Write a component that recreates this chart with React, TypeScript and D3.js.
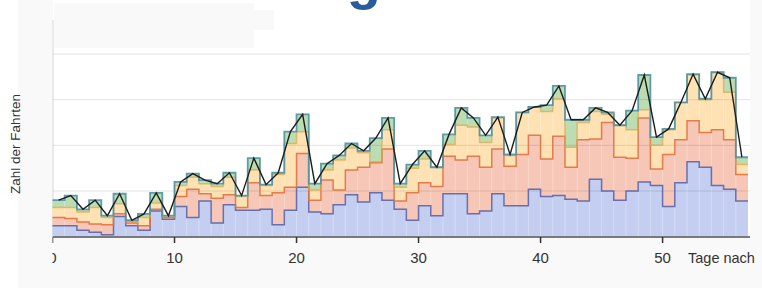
import React, { useEffect, useRef } from 'react';
import * as d3 from 'd3';

// Tage 0..56, je ein Schritt pro Tag
const days = [
  0, 1, 2, 3, 4, 5, 6, 7, 8, 9, 10, 11, 12, 13, 14, 15, 16, 17, 18, 19,
  20, 21, 22, 23, 24, 25, 26, 27, 28, 29, 30, 31, 32, 33, 34, 35, 36, 37, 38, 39,
  40, 41, 42, 43, 44, 45, 46, 47, 48, 49, 50, 51, 52, 53, 54, 55, 56,
];

// gestapelte Reihen (von unten nach oben)
const blau = [
  12, 12, 7, 5, 2, 22, 12, 7, 28, 19, 33, 21, 39, 15, 35, 29, 29, 30, 13, 29,
  54, 27, 25, 35, 46, 38, 48, 40, 30, 18, 34, 23, 47, 47, 25, 28, 47, 34, 34, 52,
  44, 45, 41, 39, 63, 50, 40, 50, 60, 56, 33, 59, 82, 76, 56, 52, 39,
];
const rot = [
  9, 8, 9, 9, 11, 3, 3, 5, 2, 2, 11, 31, 8, 27, 11, 3, 30, 15, 35, 25,
  37, 13, 37, 16, 27, 38, 33, 56, 9, 30, 25, 32, 41, 37, 63, 48, 49, 43, 56, 59,
  41, 65, 35, 67, 44, 75, 47, 36, 70, 18, 57, 47, 45, 38, 61, 54, 29,
];
const orange = [
  11, 12, 11, 18, 8, 11, 2, 9, 7, 1, 12, 13, 11, 13, 19, 12, 14, 11, 20, 48,
  24, 11, 11, 33, 24, 16, 1, 21, 15, 27, 26, 21, 13, 38, 32, 27, 34, 12, 46, 31,
  52, 41, 22, 19, 30, 9, 35, 31, 9, 26, 27, 41, 50, 36, 63, 52, 11,
];
const gruen = [
  8, 13, 3, 8, 2, 11, 1, 4, 11, 1, 4, 4, 4, 3, 5, 1, 13, 1, 2, 13,
  19, 7, 7, 5, 5, 2, 26, 13, 4, 4, 9, 0, 11, 19, 10, 8, 1, 1, 0, 0,
  7, 14, 30, 3, 4, 2, 0, 21, 38, 9, 1, 0, 1, 1, 0, 16, 8,
];

const yGrid = [50, 100, 150, 200];
const xTicks = [0, 10, 20, 30, 40, 50];

const keys = ['blau', 'rot', 'orange', 'gruen'];
const fills: Record<string, string> = { blau: '#c4cef1', rot: '#f6c6b7', orange: '#fee2b4', gruen: '#bcdcb2' };
const strokes: Record<string, string> = { blau: '#5b63a9', rot: '#e2703d', orange: '#dba445', gruen: '#4d93a6' };

const App: React.FC = () => {
  const svgRef = useRef<SVGSVGElement | null>(null);

  useEffect(() => {
    if (!svgRef.current) return;
    const width = 762, height = 288;
    const svg = d3.select(svgRef.current).attr('width', width).attr('height', height);
    svg.selectAll('*').remove();

    const x = d3.scaleLinear().domain([0, 57]).range([52.5, 748]);
    const y = d3.scaleLinear().domain([0, 200]).range([236.7, 54]);

    const rows = days.map((d, i) => ({ day: d, blau: blau[i], rot: rot[i], orange: orange[i], gruen: gruen[i] }));
    const series = d3.stack<any>().keys(keys)(rows);
    const totals = rows.map(r => r.blau + r.rot + r.orange + r.gruen);

    // background: grey frame, white plot area
    svg.append('rect').attr('x', 18).attr('y', 0).attr('width', width - 18).attr('height', height).attr('fill', '#f9f9f9');
    svg.append('rect').attr('x', 53).attr('y', 0).attr('width', 697).attr('height', 237).attr('fill', '#fff');

    // faded legend box
    svg.append('rect').attr('x', 54).attr('y', 3).attr('width', 200).attr('height', 45).attr('fill', '#f9f9f9');
    svg.append('rect').attr('x', 254).attr('y', 10).attr('width', 20).attr('height', 20).attr('fill', '#f9f9f9');

    // title (only the descender of the g peeks in at the top)
    svg.append('text')
      .attr('x', 381).attr('y', -2.5)
      .attr('text-anchor', 'end')
      .style('font-family', '"Liberation Sans", Arial, sans-serif')
      .style('font-weight', 'bold')
      .style('font-size', '56px')
      .style('fill', '#2b5b9c')
      .text('Fahrten am Tag');

    // y axis line
    svg.append('line').attr('x1', 53).attr('x2', 53).attr('y1', 20).attr('y2', 237)
      .attr('stroke', '#d8d8d8').attr('stroke-width', 1);

    const pts = (s: any) => {
      const p = s.map((d: any, i: number) => ({ x: days[i], y0: d[0], y1: d[1] }));
      const last = p[p.length - 1];
      p.push({ x: last.x + 1, y0: last.y0, y1: last.y1 });
      return p;
    };

    const area = d3.area<any>().x(d => x(d.x)).y0(d => y(d.y0)).y1(d => y(d.y1)).curve(d3.curveStepAfter);
    const topLine = d3.line<any>().x(d => x(d.x)).y(d => y(d.y1)).curve(d3.curveStepAfter);

    series.forEach(s => {
      svg.append('path').attr('d', area(pts(s))).attr('fill', fills[s.key]);
    });

    // faint day separators inside the fill
    days.slice(1).forEach((d, j) => {
      const h = Math.min(totals[j], totals[j + 1]);
      svg.append('line').attr('x1', x(d)).attr('x2', x(d)).attr('y1', y(0)).attr('y2', y(h))
        .attr('stroke', '#fff').attr('stroke-opacity', 0.3).attr('stroke-width', 1);
    });

    // gridlines
    svg.selectAll('.grid').data(yGrid).enter().append('line')
      .attr('x1', 53).attr('x2', 750)
      .attr('y1', d => y(d)).attr('y2', d => y(d))
      .attr('stroke', '#000').attr('stroke-opacity', 0.11).attr('stroke-width', 1);

    series.forEach(s => {
      svg.append('path').attr('d', topLine(pts(s))).attr('fill', 'none')
        .attr('stroke', strokes[s.key]).attr('stroke-width', s.key === 'gruen' ? 1.8 : 1.5)
        .attr('stroke-opacity', s.key === 'orange' ? 0.7 : 0.9);
    });

    // total line through step centres
    const totalLine = d3.line<number>().x((_, i) => x(days[i] + 0.5)).y(d => y(d));
    svg.append('path').attr('d', totalLine(totals)).attr('fill', 'none')
      .attr('stroke', '#1d1d1d').attr('stroke-width', 1.4);

    // x axis
    svg.append('line').attr('x1', 53).attr('x2', 750).attr('y1', 237).attr('y2', 237)
      .attr('stroke', '#7a7a7a').attr('stroke-width', 2);

    svg.append('clipPath').attr('id', 'xclip').append('rect')
      .attr('x', 52.5).attr('y', 230).attr('width', 720).attr('height', 58);

    const ax = svg.append('g').attr('clip-path', 'url(#xclip)');
    xTicks.forEach(t => {
      ax.append('line').attr('x1', x(t)).attr('x2', x(t)).attr('y1', 237).attr('y2', 243)
        .attr('stroke', '#333').attr('stroke-width', 1.5);
      ax.append('text').attr('x', x(t)).attr('y', 263).attr('text-anchor', 'middle')
        .style('font-family', '"Liberation Sans", Arial, sans-serif').style('font-size', '15px')
        .style('fill', '#333').text(String(t));
    });

    svg.append('text').attr('x', 688).attr('y', 263)
      .style('font-family', '"Liberation Sans", Arial, sans-serif').style('font-size', '14.5px')
      .style('fill', '#333').text('Tage nach');

    svg.append('text')
      .attr('transform', 'translate(20,144) rotate(-90)')
      .attr('text-anchor', 'middle')
      .style('font-family', '"Liberation Sans", Arial, sans-serif').style('font-size', '13.5px')
      .style('fill', '#333').text('Zahl der Fahrten');
  }, []);

  return (
    <div style={{ position: 'fixed', left: 0, top: 0, width: 762, height: 288, background: '#fff' }}>
      <svg ref={svgRef}></svg>
    </div>
  );
};

export default App;
